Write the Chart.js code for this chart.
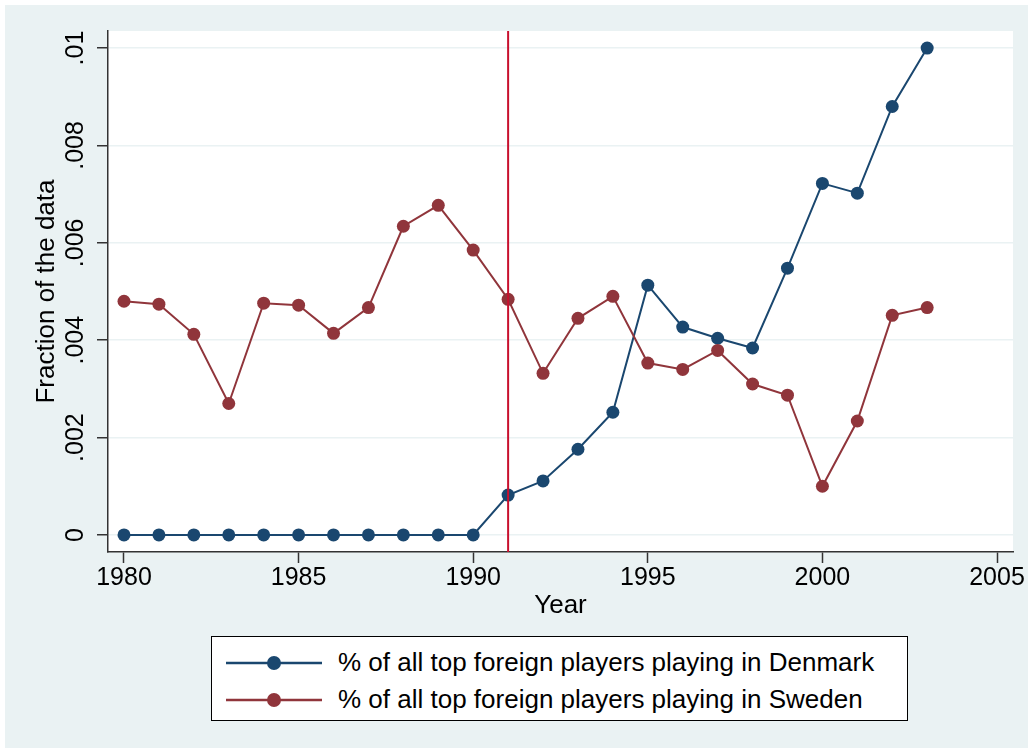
<!DOCTYPE html>
<html>
<head>
<meta charset="utf-8">
<script src="https://cdn.jsdelivr.net/npm/chart.js@4.4.0/dist/chart.umd.min.js"></script>
<style>
    html, body { margin: 0; padding: 0; background: #fff; }
    #frame { position: absolute; left: 5px; top: 5px; width: 1023px; height: 743px; background: #eaf2f3; }
    #wrap { position: absolute; left: 0; top: 0; width: 1023px; height: 625px; }
    #legend {
        position: absolute; left: 206px; top: 631px; width: 697px; height: 85px;
        background: #fff; border: 1px solid #000; box-sizing: border-box;
        font-family: Arial, "Liberation Sans", Helvetica, sans-serif; font-size: 26px; color: #000;
        padding-top: 7px;
    }
    .row { display: flex; align-items: center; height: 37px; }
    .row svg { margin-left: 14px; margin-right: 16px; }
</style>
</head>
<body>
<div id="frame">
    <div id="wrap"><canvas id="chart"></canvas></div>
    <div id="legend"></div>
</div>
<script>
// data
const years = [1980, 1981, 1982, 1983, 1984, 1985, 1986, 1987, 1988, 1989, 1990, 1991,
               1992, 1993, 1994, 1995, 1996, 1997, 1998, 1999, 2000, 2001, 2002, 2003];

const denmark = [0, 0, 0, 0, 0, 0, 0, 0, 0, 0, 0, 0.00082,
                 0.00111, 0.00176, 0.00252, 0.00513, 0.00427, 0.00404, 0.00384, 0.00548, 0.00722, 0.00702, 0.0088, 0.01];

const sweden = [0.0048, 0.00474, 0.00412, 0.0027, 0.00476, 0.00472, 0.00414, 0.00467, 0.00634, 0.00677, 0.00585, 0.00484,
                0.00332, 0.00445, 0.0049, 0.00353, 0.0034, 0.00379, 0.0031, 0.00287, 0.001, 0.00234, 0.00451, 0.00467];

const seriesNames = ['% of all top foreign players playing in Denmark', '% of all top foreign players playing in Sweden'];

const cutoffYear = 1991;

const xTicks = [1980, 1985, 1990, 1995, 2000, 2005];
const yTicks = [0, 0.002, 0.004, 0.006, 0.008, 0.01];
const yTickLabels = ['0', '.002', '.004', '.006', '.008', '.01'];

const xMin = 1979.542, xMax = 2005.458;
const yMin = -0.00035, yMax = 0.01035;

const navy = '#1a476f';
const maroon = '#90353b';
const font = 'Arial, "Liberation Sans", Helvetica, sans-serif';

const plotBg = {
    id: 'plotBg',
    beforeDraw(chart) {
        const a = chart.chartArea;
        chart.ctx.save();
        chart.ctx.fillStyle = '#fff';
        chart.ctx.fillRect(a.left, a.top, a.right - a.left, a.bottom - a.top);
        chart.ctx.restore();
    }
};

const ctx = document.getElementById('chart');

const chart = new Chart(ctx, {
    type: 'line',
    data: {
        datasets: [{
            label: 'cutoff',
            data: [{ x: cutoffYear, y: yMin }, { x: cutoffYear, y: yMax }],
            borderColor: '#c8102e',
            borderWidth: 2,
            pointRadius: 0,
            order: 0
        }, {
            label: seriesNames[0],
            data: years.map((yr, i) => ({ x: yr, y: denmark[i] })),
            borderColor: navy,
            backgroundColor: navy,
            borderWidth: 2,
            pointRadius: 6.5,
            pointBorderWidth: 0,
            pointBackgroundColor: navy,
            order: 2
        }, {
            label: seriesNames[1],
            data: years.map((yr, i) => ({ x: yr, y: sweden[i] })),
            borderColor: maroon,
            backgroundColor: maroon,
            borderWidth: 2,
            pointRadius: 6.5,
            pointBorderWidth: 0,
            pointBackgroundColor: maroon,
            order: 1
        }]
    },
    options: {
        responsive: true,
        maintainAspectRatio: false,
        animation: false,
        layout: { padding: { top: 26, right: 15, left: 0, bottom: 0 } },
        plugins: {
            legend: { display: false },
            tooltip: { enabled: false }
        },
        scales: {
            x: {
                type: 'linear',
                min: xMin,
                max: xMax,
                afterBuildTicks: axis => { axis.ticks = xTicks.map(v => ({ value: v })); },
                afterFit: axis => { axis.height = 78; },
                ticks: {
                    color: '#000',
                    font: { family: font, size: 25 },
                    padding: 0,
                    maxRotation: 0,
                    callback: v => String(v)
                },
                grid: {
                    drawOnChartArea: false,
                    tickLength: 11,
                    tickColor: '#333',
                    tickWidth: 1.5
                },
                border: { color: '#333', width: 1.5 },
                title: {
                    display: true,
                    text: 'Year',
                    color: '#000',
                    font: { family: font, size: 26 },
                    padding: { top: 0, bottom: 9 }
                }
            },
            y: {
                min: yMin,
                max: yMax,
                afterBuildTicks: axis => { axis.ticks = yTicks.map(v => ({ value: v })); },
                afterFit: axis => { axis.width = 103; },
                ticks: {
                    color: '#000',
                    font: { family: font, size: 25 },
                    minRotation: 90,
                    maxRotation: 90,
                    crossAlign: 'center',
                    padding: -3,
                    callback: v => yTickLabels[yTicks.indexOf(v)]
                },
                grid: {
                    color: '#eaf2f3',
                    lineWidth: 1.5,
                    tickLength: 11,
                    tickColor: '#333',
                    tickWidth: 1.5
                },
                border: { color: '#333', width: 1.5 },
                title: {
                    display: true,
                    text: 'Fraction of the data',
                    color: '#000',
                    font: { family: font, size: 26 },
                    padding: { top: 26, bottom: 0 }
                }
            }
        }
    },
    plugins: [plotBg]
});

// legend built from the chart's own datasets
const legendBox = document.getElementById('legend');
chart.data.datasets.filter(ds => ds.label !== 'cutoff').forEach(ds => {
    const row = document.createElement('div');
    row.className = 'row';
    row.innerHTML = `
        <svg width="96" height="20">
            <line x1="0" y1="10" x2="96" y2="10" stroke="${ds.borderColor}" stroke-width="2.5"></line>
            <circle cx="48" cy="10" r="7" fill="${ds.borderColor}"></circle>
        </svg>
        <span>${ds.label}</span>`;
    legendBox.appendChild(row);
});
</script>
</body>
</html>
